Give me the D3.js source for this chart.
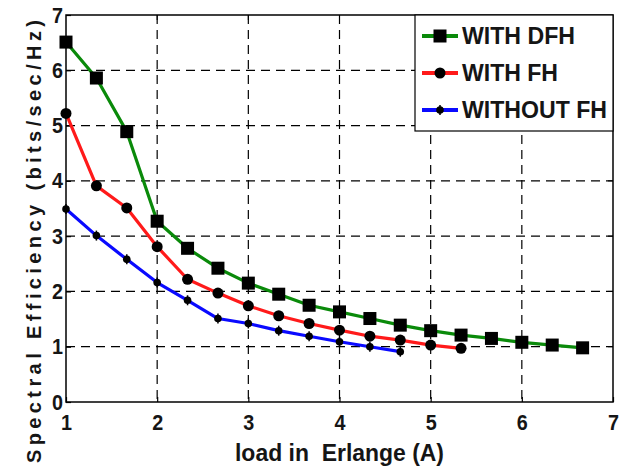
<!DOCTYPE html>
<html lang="en">
<head>
    <meta charset="UTF-8">
    <title>Spectral Efficiency vs Load</title>
    <script src="https://d3js.org/d3.v7.min.js"></script>
    <style>
        body { margin: 0; background: #fff; }
        svg text { font-family: "Liberation Sans", Arial, sans-serif; font-weight: bold; fill: #151515; }
        .tick text { font-size: 22px; }
        .grid line { stroke: #000; stroke-width: 1.2; stroke-dasharray: 9,6; }
    </style>
</head>
<body>
<svg id="chart" width="627" height="472"></svg>
<script>
// loads (Erlang), step of 1/3
const loads = [1, 4/3, 5/3, 2, 7/3, 8/3, 3, 10/3, 11/3, 4, 13/3, 14/3, 5, 16/3, 17/3, 6, 19/3, 20/3];

const withDFH = [6.51, 5.86, 4.89, 3.27, 2.78, 2.42, 2.15, 1.95, 1.75, 1.63, 1.51, 1.39, 1.29, 1.21, 1.15, 1.08, 1.03, 0.98];
const withFH = [5.22, 3.91, 3.51, 2.81, 2.22, 1.97, 1.74, 1.56, 1.42, 1.30, 1.19, 1.12, 1.03, 0.97];
const withoutFH = [3.49, 3.01, 2.58, 2.16, 1.84, 1.51, 1.42, 1.29, 1.19, 1.09, 1.00, 0.91];

const xTicks = [1, 2, 3, 4, 5, 6, 7];
const yTicks = [0, 1, 2, 3, 4, 5, 6, 7];

const series = [
    { name: "WITH DFH", values: withDFH, color: "#0a8a0a", marker: "square", textW: 113 },
    { name: "WITH FH", values: withFH, color: "#ff1a1a", marker: "circle", textW: 96 },
    { name: "WITHOUT FH", values: withoutFH, color: "#0a0aff", marker: "dot", textW: 145 }
];

const svg = d3.select("#chart");
const margin = { left: 66, right: 14, top: 15, bottom: 70 };
const width = 627 - margin.left - margin.right;
const height = 472 - margin.top - margin.bottom;

const x = d3.scaleLinear().domain([1, 7]).range([0, width]);
const y = d3.scaleLinear().domain([0, 7]).range([height, 0]);

const g = svg.append("g").attr("transform", `translate(${margin.left},${margin.top})`);

// dashed grid
g.append("g").attr("class", "grid")
    .selectAll("line.v").data(xTicks.slice(1, -1)).enter().append("line")
    .attr("x1", d => x(d)).attr("x2", d => x(d)).attr("y1", 0).attr("y2", height);
g.append("g").attr("class", "grid")
    .selectAll("line.h").data(yTicks.slice(1, -1)).enter().append("line")
    .attr("x1", 0).attr("x2", width).attr("y1", d => y(d)).attr("y2", d => y(d));

// axes
const xAxis = g.append("g").attr("transform", `translate(0,${height})`)
    .call(d3.axisBottom(x).tickValues(xTicks).tickSize(-5).tickPadding(12).tickFormat(d3.format("d")));
const yAxis = g.append("g")
    .call(d3.axisLeft(y).tickValues(yTicks).tickSize(-5).tickPadding(3).tickFormat(d3.format("d")));
[xAxis, yAxis].forEach(a => {
    a.select(".domain").remove();
    a.selectAll(".tick line").attr("stroke", "#000").attr("stroke-width", 1.2);
    a.selectAll(".tick text").attr("textLength", 11).attr("lengthAdjust", "spacingAndGlyphs");
});
// ticks on the top and right edges too
g.append("g").selectAll("line").data(xTicks.slice(1, -1)).enter().append("line")
    .attr("x1", d => x(d)).attr("x2", d => x(d)).attr("y1", 0).attr("y2", 5).attr("stroke", "#000");
g.append("g").selectAll("line").data(yTicks.slice(1, -1)).enter().append("line")
    .attr("x1", width).attr("x2", width - 5).attr("y1", d => y(d)).attr("y2", d => y(d)).attr("stroke", "#000");

g.append("rect").attr("width", width).attr("height", height)
    .attr("fill", "none").attr("stroke", "#000").attr("stroke-width", 1.5);

const line = d3.line().x((d, i) => x(loads[i])).y(d => y(d));

function drawMarker(sel, type) {
    if (type === "square") {
        sel.append("rect").attr("x", -6.5).attr("y", -6.5).attr("width", 13).attr("height", 13).attr("fill", "#000");
    } else if (type === "circle") {
        sel.append("circle").attr("r", 5.5).attr("fill", "#000");
    } else {
        sel.append("circle").attr("r", 3.8).attr("fill", "#000");
        sel.append("line").attr("y1", -5).attr("y2", 5).attr("stroke", "#000").attr("stroke-width", 1.5);
    }
}

series.forEach(s => {
    g.append("path").datum(s.values)
        .attr("fill", "none").attr("stroke", s.color).attr("stroke-width", 3.2)
        .attr("stroke-linejoin", "round")
        .attr("d", line);
    g.append("g").selectAll("g").data(s.values).enter().append("g")
        .attr("transform", (d, i) => `translate(${x(loads[i])},${y(d)})`)
        .each(function () { drawMarker(d3.select(this), s.marker); });
});

// legend
const legend = g.append("g").attr("transform", `translate(${415 - margin.left},0)`);
legend.append("rect").attr("width", width - (415 - margin.left)).attr("height", 116)
    .attr("fill", "#fff").attr("stroke", "#000").attr("stroke-width", 1.2);
series.forEach((s, i) => {
    const row = legend.append("g").attr("transform", `translate(0,${21 + i * 37})`);
    row.append("line").attr("x1", 7).attr("x2", 43).attr("stroke", s.color).attr("stroke-width", 4);
    drawMarker(row.append("g").attr("transform", "translate(25,0)"), s.marker);
    row.append("text").attr("x", 47).attr("y", 0).attr("dy", "0.36em")
        .attr("textLength", s.textW).attr("lengthAdjust", "spacingAndGlyphs")
        .style("font-size", "23px").text(s.name);
});

// axis titles
svg.append("text")
    .attr("x", 235).attr("y", 461)
    .attr("textLength", 209).attr("lengthAdjust", "spacingAndGlyphs")
    .style("font-size", "24px").style("white-space", "pre")
    .text("load in  Erlange (A)");
svg.append("text")
    .attr("transform", "translate(41,463) rotate(-90)")
    .attr("textLength", 443).attr("lengthAdjust", "spacing")
    .style("font-size", "20px")
    .text("Spectral Efficiency (bits/sec/Hz)");
</script>
</body>
</html>
